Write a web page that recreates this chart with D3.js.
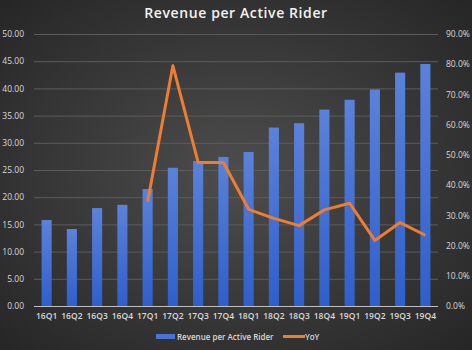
<!DOCTYPE html>
<html><head><meta charset="utf-8">
<script src="https://cdn.jsdelivr.net/npm/d3@7"></script>
<style>html,body{margin:0;padding:0;background:#333}svg{display:block}</style>
</head><body>
<script>
const categories = ["16Q1","16Q2","16Q3","16Q4","17Q1","17Q2","17Q3","17Q4","18Q1","18Q2","18Q3","18Q4","19Q1","19Q2","19Q3","19Q4"];
const revenuePerRider = [15.8,14.15,18.0,18.6,21.5,25.4,26.65,27.4,28.3,32.8,33.6,36.1,37.9,39.8,42.9,44.5];
const yoy = [null,null,null,null,0.345,0.795,0.475,0.475,0.32,0.29,0.266,0.318,0.34,0.217,0.276,0.234];
const leftTicks = [0,5,10,15,20,25,30,35,40,45,50];
const rightTicks = [0,0.1,0.2,0.3,0.4,0.5,0.6,0.7,0.8,0.9];
const title = "Revenue per Active Rider";
const seriesNames = ["Revenue per Active Rider","YoY"];

const W=472,H=350;
const m={l:34,r:34,t:34,b:44};
const svg=d3.select("body").append("svg").attr("width",W).attr("height",H);
const defs=svg.append("defs");
const rg=defs.append("radialGradient").attr("id","bg").attr("cx","50%").attr("cy","50%").attr("r","70%");
rg.append("stop").attr("offset","0%").attr("stop-color","#4d4d4d");
rg.append("stop").attr("offset","100%").attr("stop-color","#262626");
const bgd=defs.append("linearGradient").attr("id","bar").attr("x1",0).attr("y1",0).attr("x2",0).attr("y2",1);
bgd.append("stop").attr("offset","0%").attr("stop-color","#5b82da");
bgd.append("stop").attr("offset","100%").attr("stop-color","#2f5fcc");
svg.append("rect").attr("width",W).attr("height",H).attr("fill","url(#bg)");

const x=d3.scaleBand().domain(categories).range([m.l,W-m.r]).paddingInner(0.6).paddingOuter(0.3);
const yL=d3.scaleLinear().domain([0,50]).range([H-m.b,m.t]);
const yR=d3.scaleLinear().domain([0,0.9]).range([H-m.b,m.t]);

// grid
svg.append("g").selectAll("line").data(leftTicks.slice(1)).join("line")
 .attr("x1",m.l).attr("x2",W-m.r).attr("y1",d=>yL(d)+0.5).attr("y2",d=>yL(d)+0.5)
 .attr("stroke","#5c5c5c").attr("stroke-width",1);

// bars
svg.append("g").selectAll("rect").data(categories).join("rect")
 .attr("x",d=>x(d)).attr("width",x.bandwidth())
 .attr("y",(d,i)=>yL(revenuePerRider[i])).attr("height",(d,i)=>yL(0)-yL(revenuePerRider[i]))
 .attr("fill","url(#bar)");

// baseline
svg.append("line").attr("x1",m.l).attr("x2",W-m.r).attr("y1",yL(0)+0.5).attr("y2",yL(0)+0.5)
 .attr("stroke","#bfbfbf").attr("stroke-width",1);

// line
const line=d3.line().defined(d=>d!=null).x((d,i)=>x(categories[i])+x.bandwidth()/2).y(d=>yR(d));
svg.append("path").datum(yoy).attr("d",line).attr("fill","none").attr("stroke","#ed7d31")
 .attr("stroke-width",3).attr("stroke-linejoin","round");

const font="'Open Sans', sans-serif";
// left axis
const la=svg.append("g").attr("transform",`translate(${m.l-10},0)`)
 .call(d3.axisLeft(yL).tickValues(leftTicks).tickFormat(d3.format(".2f")).tickSize(0).tickPadding(0));
la.select(".domain").remove();
la.selectAll("text").attr("fill","#d9d9d9").style("font-family",font).style("font-size","8.5px");
// right axis
const ra=svg.append("g").attr("transform",`translate(${W-m.r+8},0)`)
 .call(d3.axisRight(yR).tickValues(rightTicks).tickFormat(d3.format(".1%")).tickSize(0).tickPadding(0));
ra.select(".domain").remove();
ra.selectAll("text").attr("fill","#d9d9d9").style("font-family",font).style("font-size","8.5px");
// x axis
const xa=svg.append("g").attr("transform",`translate(0,${H-m.b+7})`)
 .call(d3.axisBottom(x).tickSize(0).tickPadding(0));
xa.select(".domain").remove();
xa.selectAll("text").attr("fill","#d9d9d9").style("font-family",font).style("font-size","8.5px").style("font-weight","600");

// title
svg.append("text").attr("x",236).attr("y",18).attr("text-anchor","middle")
 .attr("fill","#f2f2f2").style("font-family",font).style("font-size","14px").style("font-weight","600")
 .style("letter-spacing","0.6px").text(title);

// legend
const lg=svg.append("g");
lg.append("rect").attr("x",156).attr("y",334).attr("width",19).attr("height",5).attr("fill","#4a72d4");
lg.append("text").attr("x",177).attr("y",340).attr("fill","#d9d9d9").style("font-family",font)
 .style("font-size","8px").style("font-weight","600").text(seriesNames[0]);
lg.append("line").attr("x1",283).attr("x2",305).attr("y1",336.5).attr("y2",336.5).attr("stroke","#ed7d31").attr("stroke-width",3);
lg.append("text").attr("x",305).attr("y",340).attr("fill","#d9d9d9").style("font-family",font)
 .style("font-size","8px").style("font-weight","600").text(seriesNames[1]);
</script>
</body></html>
